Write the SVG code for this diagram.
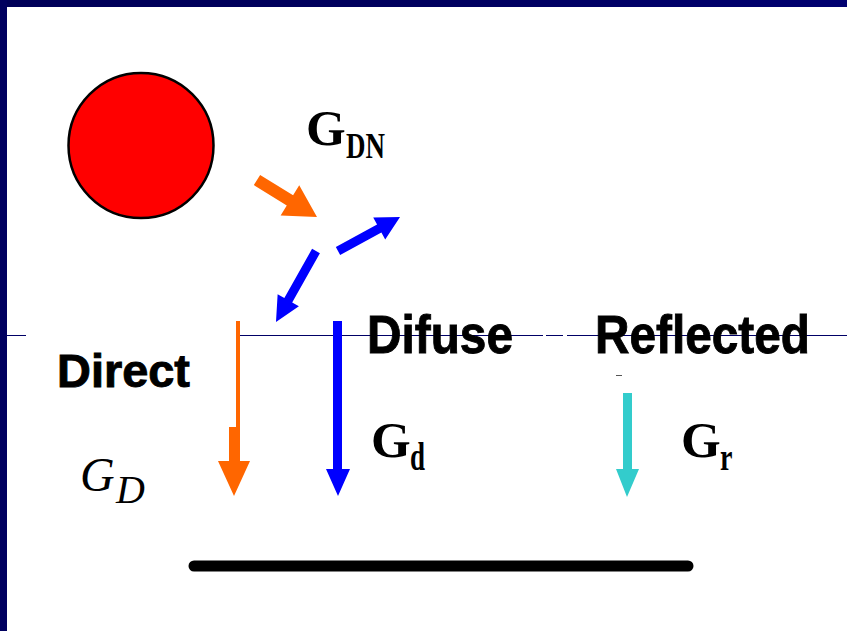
<svg xmlns="http://www.w3.org/2000/svg" width="847" height="631" viewBox="0 0 847 631">
<defs>
<linearGradient id="band" x1="0" y1="0" x2="1" y2="0">
<stop offset="0" stop-color="#000058"/>
<stop offset="0.5" stop-color="#00005e"/>
<stop offset="1" stop-color="#000070"/>
</linearGradient>
<style>
.lbl{font-family:"Liberation Sans",Arial,sans-serif;font-weight:bold;fill:#000;stroke:#000;stroke-width:0.9}
.g{font-family:"Liberation Serif","Times New Roman",serif;font-weight:bold;fill:#000}
.gi{font-family:"Liberation Serif","Times New Roman",serif;font-style:italic;fill:#000}
.rule{stroke:#000066;stroke-width:1}
</style>
</defs>
<rect width="847" height="631" fill="#fff"/>
<rect x="0" y="0" width="847" height="7" fill="url(#band)"/>
<rect x="0" y="0" width="7" height="631" fill="#00005f"/>

<g id="horizon">
<line class="rule" x1="7" y1="335.5" x2="26" y2="335.5"/>
<line class="rule" x1="240" y1="335.5" x2="543" y2="335.5"/>
<line class="rule" x1="546" y1="335.5" x2="563" y2="335.5"/>
<line class="rule" x1="567" y1="335.5" x2="847" y2="335.5"/>
<line x1="616" y1="375.5" x2="622" y2="375.5" stroke="#555" stroke-width="1"/>
</g>

<g id="sun">
<circle cx="141" cy="145.5" r="72.5" fill="#ff0000" stroke="#000" stroke-width="2.5"/>
</g>

<g id="label-GDN">
<text class="g" x="306" y="145" font-size="51">G</text>
<text class="g" x="346" y="0" font-size="27" transform="translate(0,158) scale(1,1.3)">DN</text>
</g>

<g id="connectors">
<g transform="translate(257,180) rotate(31.7)">
<polygon points="0,-6 38.7,-6 38.7,-17.7 70.5,0 38.7,17.7 38.7,6 0,6" fill="#ff6600"/>
</g>
<g transform="translate(338,251) rotate(-28.7)">
<polygon points="0,-4.5 47,-4.5 47,-12.5 70.7,0 47,12.5 47,4.5 0,4.5" fill="#0000ff"/>
</g>
<g transform="translate(316,251) rotate(119.4)">
<polygon points="0,-4.5 56.5,-4.5 56.5,-12.2 81.5,0 56.5,12.2 56.5,4.5 0,4.5" fill="#0000ff"/>
</g>
<polygon points="236,321 240,321 240,461 250,461 234,496 218,461 229,461 229,427 236,427" fill="#ff6600"/>
<polygon points="333,321 342,321 342,469 350,469 338,496 326,469 333,469" fill="#0000ff"/>
<polygon points="623,393 632,393 632,469 639,469 627,497 616,469 623,469" fill="#33cccc"/>
</g>

<g id="label-difuse">
<text class="lbl" x="367" y="353" font-size="53" textLength="146" lengthAdjust="spacingAndGlyphs">Difuse</text>
</g>
<g id="label-reflected">
<text class="lbl" x="595" y="353" font-size="53" textLength="215" lengthAdjust="spacingAndGlyphs">Reflected</text>
</g>
<g id="label-direct">
<text class="lbl" x="57" y="387" font-size="46" textLength="133" lengthAdjust="spacingAndGlyphs">Direct</text>
</g>

<g id="label-Gd">
<text class="g" x="371" y="457" font-size="51">G</text>
<text class="g" x="410" y="0" font-size="27" transform="translate(0,470) scale(1,1.45)">d</text>
</g>
<g id="label-Gr">
<text class="g" x="681" y="457" font-size="51">G</text>
<text class="g" x="720" y="0" font-size="28" transform="translate(0,470) scale(1,1.35)">r</text>
</g>
<g id="label-GD">
<text class="gi" x="80" y="491" font-size="48">G</text>
<text class="gi" x="116" y="503" font-size="40">D</text>
</g>

<g id="ground">
<line x1="194" y1="566" x2="688" y2="566" stroke="#000" stroke-width="11" stroke-linecap="round"/>
</g>
</svg>
